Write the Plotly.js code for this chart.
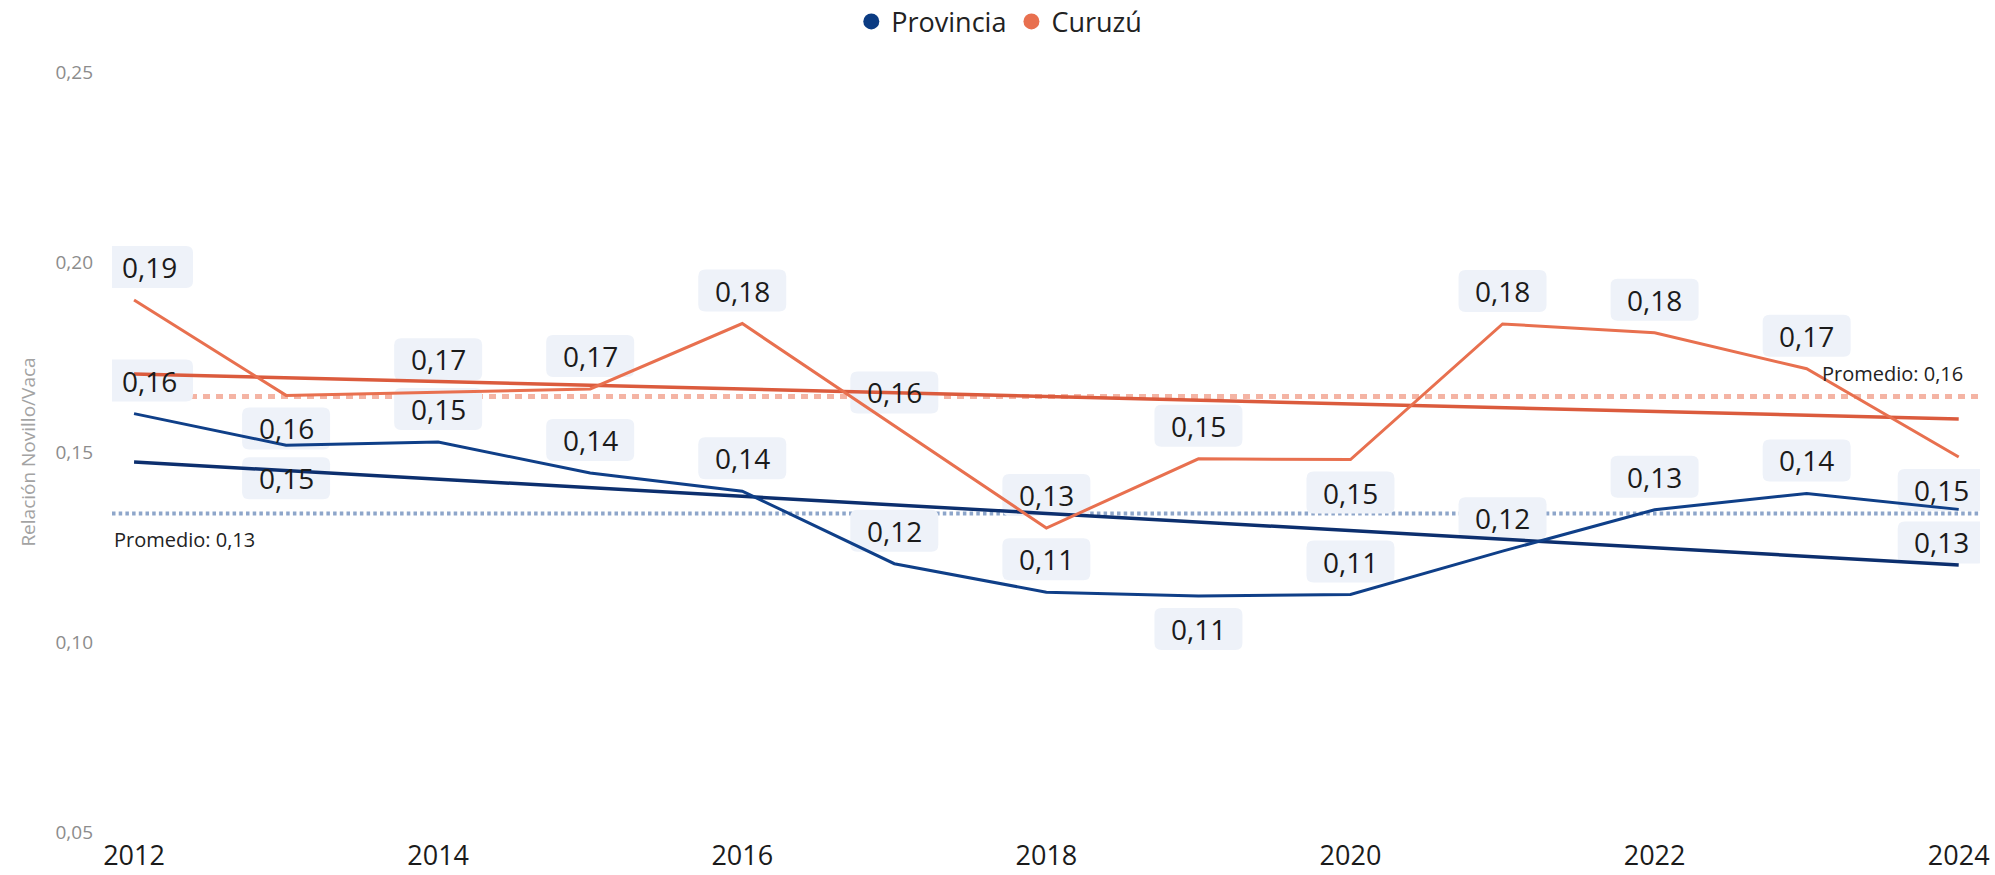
<!DOCTYPE html>
<html>
<head>
<meta charset="utf-8">
<script src="https://cdn.plot.ly/plotly-3.0.1.min.js"></script>
<style>
  html, body { margin: 0; padding: 0; background: #ffffff; }
  #chart { width: 1995px; height: 875px; }
</style>
</head>
<body>
<div id="chart"></div>
<script>
// ---- data ----
const years = [2012, 2013, 2014, 2015, 2016, 2017, 2018, 2019, 2020, 2021, 2022, 2023, 2024];
const provincia = [0.1601, 0.1518, 0.1526, 0.1445, 0.1397, 0.1206, 0.1131, 0.1121, 0.1125, 0.1239, 0.1348, 0.1391, 0.1349];
const curuzu = [0.1900, 0.1649, 0.1657, 0.1666, 0.1838, 0.1570, 0.1300, 0.1482, 0.1480, 0.1837, 0.1814, 0.1719, 0.1487];
const seriesNames = ['Provincia', 'Curuzú'];
const xTickVals = [2012, 2014, 2016, 2018, 2020, 2022, 2024];
const yTickVals = [0.05, 0.10, 0.15, 0.20, 0.25];
const yTickText = ['0,05', '0,10', '0,15', '0,20', '0,25'];
const yTitle = 'Relación Novillo/Vaca';
const avgPrefix = 'Promedio: ';

// ---- label placement (style): 1 = above the point, -1 = below ----
const provPlace = [1, -1, 1, 1, 1, 1, 1, -1, 1, 1, 1, 1, -1];
const curPlace  = [1, -1, 1, 1, 1, 1, 1, 1, -1, 1, 1, 1, -1];

// ---- styles ----
const provColor = '#0f3f88';
const provTrendColor = '#0c2f6e';
const provAvgColor = '#8ea6ca';
const curColor = '#e8704f';
const curTrendColor = '#db5b3d';
const curAvgColor = '#f4b4a4';
const boxColor = '#eef2f9';
const FONT = '"Open Sans", "Noto Sans", sans-serif';

function fmt(v) { return v.toFixed(2).replace('.', ','); }
function mean(a) { return a.reduce((s, v) => s + v, 0) / a.length; }
function linreg(xs, ys) {
  const mx = mean(xs), my = mean(ys);
  let sxy = 0, sxx = 0;
  for (let i = 0; i < xs.length; i++) { sxy += (xs[i] - mx) * (ys[i] - my); sxx += (xs[i] - mx) * (xs[i] - mx); }
  const b = sxy / sxx;
  return x => my + b * (x - mx);
}
function roundRect(cx, cy, w, h, r) {
  const x0 = cx - w / 2, x1 = cx + w / 2, y0 = cy - h / 2, y1 = cy + h / 2;
  return `M${x0 + r},${y0} L${x1 - r},${y0} Q${x1},${y0} ${x1},${y0 + r} L${x1},${y1 - r} Q${x1},${y1} ${x1 - r},${y1} L${x0 + r},${y1} Q${x0},${y1} ${x0},${y1 - r} L${x0},${y0 + r} Q${x0},${y0} ${x0 + r},${y0} Z`;
}

const provTrend = linreg(years, provincia);
const curTrend = linreg(years, curuzu);
const xEnds = [years[0], years[years.length - 1]];
const provMean = mean(provincia);
const curMean = mean(curuzu);

const traces = [
  { x: xEnds, y: xEnds.map(curTrend), mode: 'lines', line: { color: curTrendColor, width: 3.5 }, showlegend: false, hoverinfo: 'skip' },
  { x: xEnds, y: xEnds.map(provTrend), mode: 'lines', line: { color: provTrendColor, width: 3.5 }, showlegend: false, hoverinfo: 'skip' },
  { x: years, y: curuzu, mode: 'lines', line: { color: curColor, width: 3 }, showlegend: false, hoverinfo: 'skip' },
  { x: years, y: provincia, mode: 'lines', line: { color: provColor, width: 3 }, showlegend: false, hoverinfo: 'skip' },
  { x: [null], y: [null], mode: 'markers', marker: { color: '#0b3b82', size: 16 }, name: seriesNames[0], showlegend: true },
  { x: [null], y: [null], mode: 'markers', marker: { color: curColor, size: 16 }, name: seriesNames[1], showlegend: true }
];

const OFFSET = 33, BOXW = 88, BOXH = 42;
const annotations = [];
const shapes = [
  { type: 'line', xref: 'paper', yref: 'y', x0: 0, x1: 1, y0: curMean, y1: curMean, line: { color: curAvgColor, width: 5, dash: '7px,6px' }, layer: 'below' },
  { type: 'line', xref: 'paper', yref: 'y', x0: 0, x1: 1, y0: provMean, y1: provMean, line: { color: provAvgColor, width: 4, dash: '3.5px,3.2px' }, layer: 'below' }
];

function addLabels(vals, place) {
  vals.forEach((v, i) => {
    let dx = 0;
    if (i === 0) dx = 15;
    if (i === vals.length - 1) dx = -17;
    const dy = place[i] * OFFSET;
    shapes.push({
      type: 'path', xref: 'x', yref: 'y', xsizemode: 'pixel', ysizemode: 'pixel',
      xanchor: years[i], yanchor: v, path: roundRect(dx, dy, BOXW, BOXH, 7),
      fillcolor: boxColor, line: { width: 0 }, layer: 'below'
    });
    annotations.push({
      x: years[i], y: v, xref: 'x', yref: 'y', showarrow: false,
      text: fmt(v), xshift: dx, yshift: dy, xanchor: 'center', yanchor: 'middle',
      font: { family: FONT, size: 28, color: '#1b1b1b' }
    });
  });
}
addLabels(curuzu, curPlace);
addLabels(provincia, provPlace);

annotations.push({
  xref: 'paper', yref: 'y', x: 1, y: curMean, xanchor: 'right', yanchor: 'middle',
  xshift: -15, yshift: 23, showarrow: false, text: avgPrefix + fmt(curMean),
  font: { family: FONT, size: 20, color: '#222222' }
});
annotations.push({
  xref: 'paper', yref: 'y', x: 0, y: provMean, xanchor: 'left', yanchor: 'middle',
  xshift: 0, yshift: -26, showarrow: false, text: avgPrefix + fmt(provMean),
  font: { family: FONT, size: 20, color: '#222222' }
});

const layout = {
  width: 1995, height: 875,
  margin: { l: 112, r: 15, t: 72, b: 43, autoexpand: false },
  paper_bgcolor: '#ffffff', plot_bgcolor: '#ffffff',
  separators: ',.',
  font: { family: FONT },
  showlegend: true,
  legend: {
    orientation: 'h', x: 0.475, xanchor: 'center', y: 1.066, yanchor: 'middle',
    font: { family: FONT, size: 27, color: '#222222' }, bgcolor: 'rgba(0,0,0,0)',
    itemwidth: 30, traceorder: 'normal'
  },
  xaxis: {
    range: [2011.855, 2024.14], tickvals: xTickVals, ticktext: xTickVals.map(String),
    showgrid: false, zeroline: false, showline: false, ticks: '',
    ticklabelstandoff: 5,
    tickfont: { family: FONT, size: 27, color: '#1b1b1b' }
  },
  yaxis: {
    range: [0.05, 0.25], tickvals: yTickVals, ticktext: yTickText,
    showgrid: false, zeroline: false, showline: false, ticks: '',
    ticklabelstandoff: 18,
    tickfont: { family: FONT, size: 19, color: '#8c8c8c' },
    title: { text: yTitle, font: { family: FONT, size: 19, color: '#a3a3a3' }, standoff: 14 }
  },
  shapes: shapes,
  annotations: annotations,
  hovermode: false
};

Plotly.newPlot('chart', traces, layout, { displayModeBar: false, staticPlot: true });
</script>
</body>
</html>
